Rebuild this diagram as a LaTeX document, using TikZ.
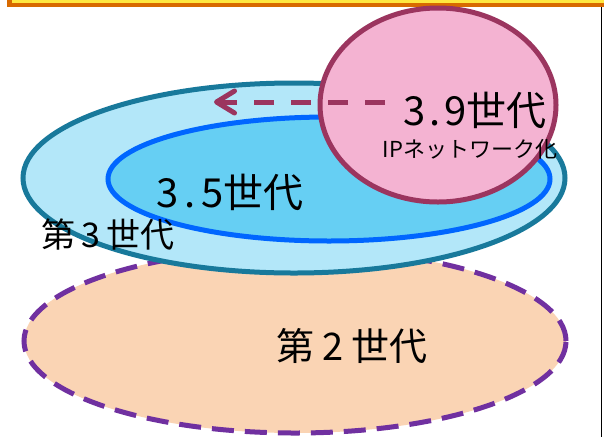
\documentclass[tikz,border=0pt]{standalone}
\usepackage{fontspec}
\setmainfont{Noto Sans CJK JP}
\usetikzlibrary{shapes.geometric,arrows.meta}
\definecolor{barorange}{HTML}{D86A00}
\definecolor{baryellow}{HTML}{FFE840}
\definecolor{peachfill}{HTML}{FAD4B4}
\definecolor{purpleline}{HTML}{7030A0}
\definecolor{ltbluefill}{HTML}{B3E7F9}
\definecolor{tealline}{HTML}{18799B}
\definecolor{midbluefill}{HTML}{66CFF3}
\definecolor{blueline}{HTML}{0066FF}
\definecolor{pinkfill}{HTML}{F4B3D2}
\definecolor{pinkline}{HTML}{9B355F}
\tikzset{
  gen/.style={ellipse, inner sep=0pt, line width=5pt},
  lbl/.style={inner sep=0pt, text=black},
}
\begin{document}
\begin{tikzpicture}[x=1pt,y=-1pt]
\useasboundingbox (0,0) rectangle (604,437);
\fill[white] (0,0) rectangle (604,437);
% top bar and right edge
\fill[barorange] (7,0) rectangle (604,7);
\fill[baryellow] (12,0) rectangle (604,3);
\draw[black,line width=1.5pt] (601.5,7) -- (601.5,437);
% ellipses
\node[gen, draw=purpleline, fill=peachfill, dash pattern=on 22pt off 11pt,
      minimum width=542pt, minimum height=184pt] (g2) at (295,341) {};
\node[gen, draw=tealline, fill=ltbluefill,
      minimum width=542pt, minimum height=190pt] (g3) at (294,178) {};
\node[gen, draw=blueline, fill=midbluefill,
      minimum width=442pt, minimum height=124pt] (g35) at (329,179) {};
\node[gen, draw=pinkline, fill=pinkfill,
      minimum width=236pt, minimum height=194pt] (g39) at (438,105) {};
% arrow
\coordinate (astart) at (385,102);
\coordinate (aend) at (214,102);
\draw[pinkline, line width=5pt, dash pattern=on 20pt off 17pt,
      -{Straight Barb[length=18pt,width=22pt,line width=5pt,round]}] (astart) -- (aend);
% labels
\node[lbl, font=\fontsize{40}{40}\selectfont] (t39) at (475,110) {3\hspace{4pt}.\hspace{4pt}9世代};
\node[lbl, font=\fontsize{22}{22}\selectfont] (tip) at (470,149) {IPネットワーク化};
\node[lbl, font=\fontsize{40}{40}\selectfont] (t35) at (230,192) {3\hspace{6pt}.\hspace{6pt}5世代};
\node[lbl, font=\fontsize{34}{34}\selectfont] (t3) at (108,235) {第\hspace{6pt}3\hspace{6pt}世代};
\node[lbl, font=\fontsize{38}{38}\selectfont] (t2) at (352,346) {第\hspace{8pt}2\hspace{8pt}世代};
\end{tikzpicture}
\end{document}
